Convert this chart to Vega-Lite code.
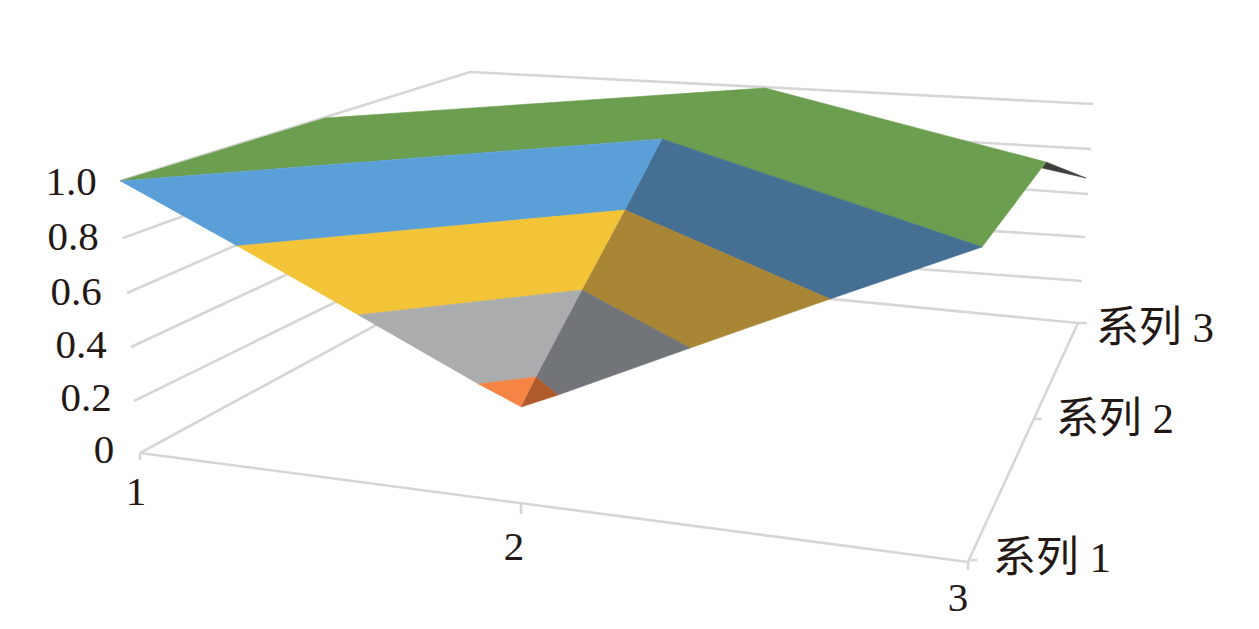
{
"$schema":"https://vega.github.io/schema/vega-lite/v6.json",
"width":1259,"height":629,"padding":0,
"autosize":{"type":"fit","contains":"padding"},
"background":"white",
"config":{"view":{"stroke":null}},
"datasets":{
"grid":[
{"g":"floorFront","o":1,"x":140,"y":453},{"g":"floorFront","o":2,"x":968,"y":562},
{"g":"floorRight","o":1,"x":968,"y":562},{"g":"floorRight","o":2,"x":1078,"y":323},{"g":"floorRight","o":3,"x":1087,"y":323},
{"g":"t1","o":1,"x":140,"y":453},{"g":"t1","o":2,"x":140,"y":460},
{"g":"t2","o":1,"x":521,"y":503},{"g":"t2","o":2,"x":521,"y":514},
{"g":"t3","o":1,"x":968,"y":562},{"g":"t3","o":2,"x":968,"y":570},
{"g":"s1","o":1,"x":968,"y":560},{"g":"s1","o":2,"x":977,"y":560},
{"g":"s2","o":1,"x":1033,"y":419},{"g":"s2","o":2,"x":1042,"y":419},
{"g":"L0","o":1,"x":140,"y":453},{"g":"L0","o":2,"x":400,"y":312},
{"g":"L2","o":1,"x":134,"y":401},{"g":"L2","o":2,"x":360,"y":290},
{"g":"L4","o":1,"x":131,"y":347},{"g":"L4","o":2,"x":320,"y":259},
{"g":"L6","o":1,"x":127,"y":293},{"g":"L6","o":2,"x":280,"y":226},
{"g":"L8","o":1,"x":123,"y":238},{"g":"L8","o":2,"x":230,"y":199},
{"g":"L10","o":1,"x":120,"y":181},{"g":"L10","o":2,"x":470,"y":72},{"g":"L10","o":3,"x":1093,"y":104},
{"g":"R8","o":1,"x":900,"y":138},{"g":"R8","o":2,"x":1091,"y":149},
{"g":"R6","o":1,"x":950,"y":184},{"g":"R6","o":2,"x":1088,"y":194},
{"g":"R4","o":1,"x":900,"y":225},{"g":"R4","o":2,"x":1085,"y":237},
{"g":"R2","o":1,"x":850,"y":264},{"g":"R2","o":2,"x":1082,"y":281},
{"g":"R0","o":1,"x":750,"y":291},{"g":"R0","o":2,"x":1078,"y":323}
],
"faces":[
{"face":"tip","o":1,"x":1046,"y":162},{"face":"tip","o":2,"x":1086,"y":178},{"face":"tip","o":3,"x":1042,"y":168},
{"face":"green","o":1,"x":120,"y":181},{"face":"green","o":2,"x":325,"y":118},{"face":"green","o":3,"x":765,"y":88},{"face":"green","o":4,"x":1046,"y":162},{"face":"green","o":5,"x":982,"y":247},{"face":"green","o":6,"x":662,"y":139},
{"face":"blue","o":1,"x":120,"y":181},{"face":"blue","o":2,"x":662,"y":139},{"face":"blue","o":3,"x":625,"y":210},{"face":"blue","o":4,"x":237,"y":246},
{"face":"yellow","o":1,"x":237,"y":246},{"face":"yellow","o":2,"x":625,"y":210},{"face":"yellow","o":3,"x":582,"y":290},{"face":"yellow","o":4,"x":358,"y":315},
{"face":"grey","o":1,"x":358,"y":315},{"face":"grey","o":2,"x":582,"y":290},{"face":"grey","o":3,"x":536,"y":377},{"face":"grey","o":4,"x":478,"y":384},
{"face":"orange","o":1,"x":478,"y":384},{"face":"orange","o":2,"x":536,"y":377},{"face":"orange","o":3,"x":521,"y":407},
{"face":"darkblue","o":1,"x":662,"y":139},{"face":"darkblue","o":2,"x":982,"y":247},{"face":"darkblue","o":3,"x":830,"y":299},{"face":"darkblue","o":4,"x":625,"y":210},
{"face":"darkyellow","o":1,"x":625,"y":210},{"face":"darkyellow","o":2,"x":830,"y":299},{"face":"darkyellow","o":3,"x":690,"y":348},{"face":"darkyellow","o":4,"x":582,"y":290},
{"face":"darkgrey","o":1,"x":582,"y":290},{"face":"darkgrey","o":2,"x":690,"y":348},{"face":"darkgrey","o":3,"x":558,"y":395},{"face":"darkgrey","o":4,"x":536,"y":377},
{"face":"darkorange","o":1,"x":536,"y":377},{"face":"darkorange","o":2,"x":558,"y":395},{"face":"darkorange","o":3,"x":521,"y":407}
],
"numbers":[
{"t":"1.0","x":71,"y":183},{"t":"0.8","x":73,"y":238},{"t":"0.6","x":76,"y":293},{"t":"0.4","x":81,"y":346},{"t":"0.2","x":86,"y":399},{"t":"0","x":104,"y":451},
{"t":"1","x":136,"y":493},{"t":"2","x":514,"y":548},{"t":"3","x":958,"y":599}
],
"series":[
{"t":"系列 3","x":1155,"y":329},{"t":"系列 2","x":1115,"y":420},{"t":"系列 1","x":1052,"y":559}
]
},
"encoding":{
"x":{"field":"x","type":"quantitative","axis":null,"scale":{"domain":[0,1259],"nice":false,"zero":false}},
"y":{"field":"y","type":"quantitative","axis":null,"scale":{"domain":[629,0],"nice":false,"zero":false}}
},
"layer":[
{"data":{"name":"grid"},
 "mark":{"type":"line","stroke":"#D6D6D6","strokeWidth":2.6,"strokeCap":"butt"},
 "encoding":{"detail":{"field":"g"},"order":{"field":"o","type":"quantitative"}}},
{"data":{"name":"faces"},
 "mark":{"type":"line","strokeWidth":0.6,"strokeJoin":"miter"},
 "encoding":{
  "order":{"field":"o","type":"quantitative"},
  "color":{"field":"face","type":"nominal","legend":null,"scale":{"domain":["tip","green","blue","yellow","grey","orange","darkblue","darkyellow","darkgrey","darkorange"],"range":["#3A3F3A","#6B9E4F","#5A9FD7","#F3C437","#AAACAE","#F68445","#466F94","#A98536","#717478","#AF5A2B"]}},
  "fill":{"field":"face","type":"nominal","legend":null,"scale":{"domain":["tip","green","blue","yellow","grey","orange","darkblue","darkyellow","darkgrey","darkorange"],"range":["#3A3F3A","#6B9E4F","#5A9FD7","#F3C437","#AAACAE","#F68445","#466F94","#A98536","#717478","#AF5A2B"]}}
 }},
{"data":{"name":"numbers"},
 "mark":{"type":"text","font":"Liberation Serif, Noto Sans CJK SC","fontSize":41,"color":"#231815","align":"center","baseline":"middle"},
 "encoding":{"text":{"field":"t","type":"nominal"}}},
{"data":{"name":"series"},
 "mark":{"type":"text","font":"Liberation Serif, Noto Sans CJK SC","fontSize":43,"color":"#231815","align":"center","baseline":"middle"},
 "encoding":{"text":{"field":"t","type":"nominal"}}}
]
}
